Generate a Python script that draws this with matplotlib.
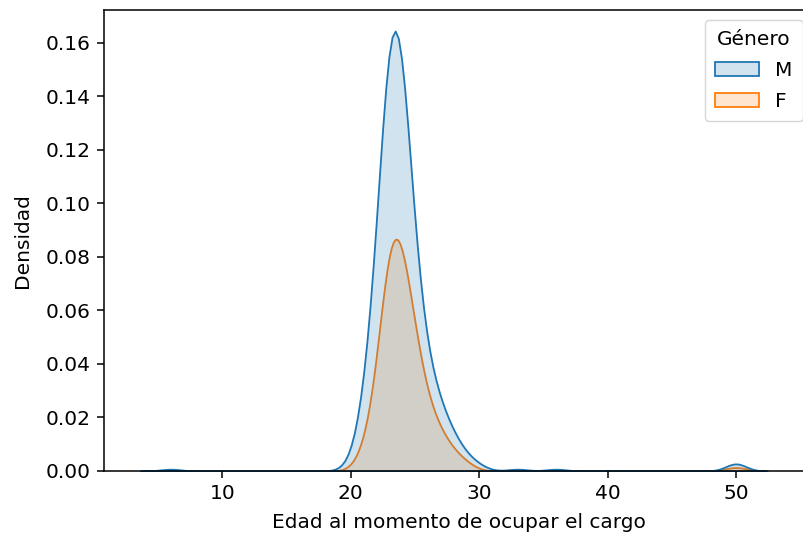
import matplotlib
matplotlib.use("Agg")
import matplotlib.pyplot as plt
import numpy as np
import pandas as pd
import seaborn as sns

# edades (años) y cuántas personas ocuparon el cargo con esa edad
edades_m = [6, 20, 21, 22, 23, 24, 25, 26, 27, 28, 29, 30, 33, 36, 50]
conteo_m = [1, 2, 20, 62, 143, 134, 62, 32, 20, 11, 5, 2, 1, 1, 4]
edades_f = [21, 22, 23, 24, 25, 26, 27, 28, 29, 50]
conteo_f = [6, 24, 77, 71, 40, 20, 12, 6, 3, 2]

x_ticks = [10, 20, 30, 40, 50]
y_ticks = [0.00, 0.02, 0.04, 0.06, 0.08, 0.10, 0.12, 0.14, 0.16]

df = pd.DataFrame({
    "edad": np.concatenate([np.repeat(edades_m, conteo_m), np.repeat(edades_f, conteo_f)]),
    "Género": ["M"] * sum(conteo_m) + ["F"] * sum(conteo_f),
})

plt.rcParams["font.family"] = ["DejaVu Sans"]
plt.rcParams["font.size"] = 14.5

fig = plt.figure(figsize=(8.04, 5.39), dpi=100)
ax = fig.add_axes([0.1294, 0.1262, 0.8818, 0.8553])

sns.kdeplot(data=df, x="edad", hue="Género", hue_order=["M", "F"],
            fill=True, alpha=0.2, bw_adjust=0.9, linewidth=1.3, ax=ax)

ax.set_xlim(0.8, 56.0)
ax.set_ylim(0, 0.1723)
ax.set_xticks(x_ticks)
ax.set_yticks(y_ticks)
ax.set_xlabel("Edad al momento de ocupar el cargo", labelpad=7.5)
ax.set_ylabel("Densidad", labelpad=10)

for s in ax.spines.values():
    s.set_linewidth(1.1)
ax.tick_params(length=4.7, width=1.1, pad=4.7)

sns.move_legend(ax, "upper right", title="Género",
                borderpad=0.5, labelspacing=0.6, handlelength=2.2)

fig.savefig("out.png", dpi=100)
